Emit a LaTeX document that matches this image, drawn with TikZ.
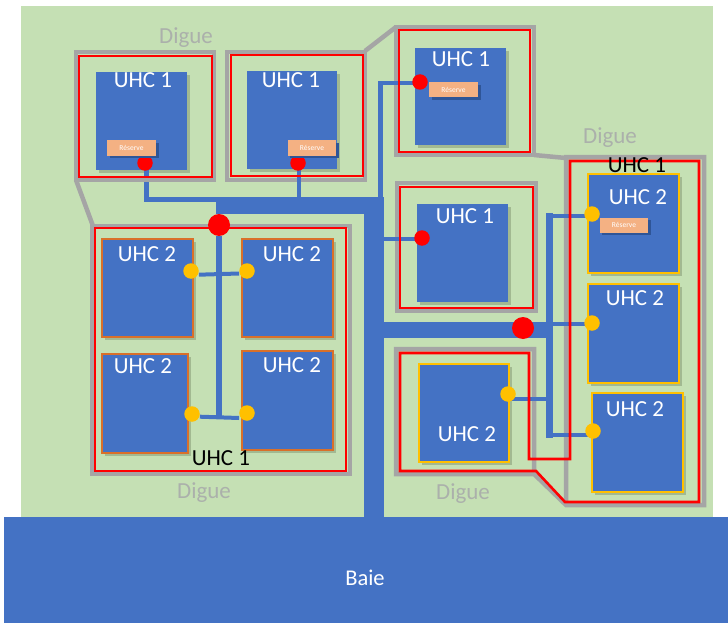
\documentclass[tikz,border=0pt]{standalone}
\usepackage{fontspec}
\usetikzlibrary{backgrounds}
\setmainfont{Carlito}
\definecolor{land}{HTML}{C5E0B4}
\definecolor{eau}{HTML}{4472C4}
\definecolor{digue}{HTML}{A5A5A5}
\definecolor{digtxt}{HTML}{ABB0AB}
\definecolor{ored}{HTML}{FF0000}
\definecolor{gold}{HTML}{FFC000}
\definecolor{orng}{HTML}{D9702A}
\definecolor{resv}{HTML}{F4B183}
\definecolor{resd}{HTML}{2F5597}
\definecolor{shad}{HTML}{6E7F5E}
\tikzset{
  dike/.style={draw=digue,line width=4.5pt,line join=miter},
  uhcrim/.style={draw=ored,line width=2.6pt,line join=miter},
  chan/.style={draw=eau,line width=4.5pt},
  big/.style={fill=eau,draw=none},
  parcel/.style={fill=eau,draw=none},
  parcelo/.style={parcel,draw=orng,line width=1.6pt},
  parcelg/.style={parcel,draw=gold,line width=2.2pt},
  sh/.style={fill=shad,opacity=.4,draw=none},
  rdot/.style={circle,fill=ored,draw=none,inner sep=0pt,minimum size=15.5pt},
  rbig/.style={circle,fill=ored,draw=none,inner sep=0pt,minimum size=22pt},
  gdot/.style={circle,fill=gold,draw=none,inner sep=0pt,minimum size=15.5pt},
  lab/.style={text=white,font=\fontsize{23}{24}\selectfont,inner sep=0pt},
  blk/.style={text=black,font=\fontsize{23}{24}\selectfont,inner sep=0pt},
  dig/.style={text=digtxt,font=\fontsize{23}{24}\selectfont,inner sep=0pt},
  resbox/.style={fill=resv,draw=none,text=white,font=\fontsize{7.5}{8}\selectfont,inner sep=0pt,minimum width=48.5pt,minimum height=15pt},
}
\newcommand{\parc}[5]{% style, x0,y0,x1,y1
  \fill[sh] (#2+3,#3+3) rectangle (#4+3,#5+3);
  \path[#1] (#2,#3) rectangle (#4,#5);
}
\newcommand{\resv}[3]{% name, cx, cy
  \fill[resd] (#2-22,#3-5) rectangle (#2+27,#3+10);
  \node[resbox] (#1) at (#2,#3) {Réserve};
}
\begin{document}
\begin{tikzpicture}[x=1pt,y=-1pt]
\useasboundingbox (0,0) rectangle (728,623);
% junction dots
\node[rdot] (r1) at (145,163) {};
\node[rdot] (r2) at (298,163) {};
\node[rdot] (r3) at (420,82) {};
\node[rdot] (r4) at (422,238) {};
\node[rbig] (b1) at (219,225) {};
\node[rbig] (b2) at (523,328) {};
\node[gdot] (g1) at (592,214) {};
\node[gdot] (g2) at (592,323) {};
\node[gdot] (g3) at (593,431) {};
\node[gdot] (g4) at (508,394) {};
\node[gdot] (g5) at (191,271) {};
\node[gdot] (g6) at (247,271) {};
\node[gdot] (g7) at (192,414) {};
\node[gdot] (g8) at (247,413) {};
\coordinate (ja) at (146.5,199.5);
\coordinate (jb) at (218,199.5);
\coordinate (jc) at (299,199);
\coordinate (je) at (380.5,200);
\coordinate (jf) at (380,239);
\coordinate (jh) at (219,417);
\coordinate (ji) at (549.5,216);
\coordinate (jj) at (549.5,324);
\coordinate (jk) at (549.5,398.5);
\coordinate (jl) at (549.5,435);
\begin{pgfonlayer}{background}
\fill[white] (0,0) rectangle (728,623);
\fill[land] (21,6) rectangle (713,517);
% dikes
\draw[dike] (76,180) -- (76,52) -- (214,52) -- (214,180) -- cycle;
\draw[dike] (227,180) -- (227,52) -- (365,52) -- (365,180) -- cycle;
\draw[dike] (365,51) -- (396,27);
\draw[dike] (396,155) -- (396,27) -- (534,27) -- (534,155) -- cycle;
\draw[dike] (534,155) -- (566,158);
\draw[dike] (566,505) -- (566,157) -- (704,157) -- (704,505) -- (566,505) -- (534,474) -- (396,474) -- (396,349) -- (534,349) -- (534,474);
\draw[dike] (397,311) -- (397,183) -- (536,183) -- (536,311) -- cycle;
\draw[dike] (92,474) -- (92,226) -- (350,226) -- (350,474) -- cycle;
\draw[dike] (76,180) -- (93,226);
% main channels
\path[big] (364,197) rectangle (384,517);
\path[big] (216,197) rectangle (384,214);
\path[big] (384,322) rectangle (546,338);
% Baie
\fill[eau] (4,517) rectangle (728,623);
% parcels
\parc{parcel}{96}{72}{187}{170}
\parc{parcel}{247}{71}{337}{169}
\parc{parcel}{415}{48}{506}{145}
\parc{parcel}{417}{204}{508}{302}
\parc{parcelg}{588}{174}{679}{273}
\parc{parcelg}{588}{284}{679}{383}
\parc{parcelg}{592}{393}{683}{492}
\parc{parcelg}{419}{364}{509}{462}
\parc{parcelo}{102}{239}{193}{337}
\parc{parcelo}{242}{239}{333}{337}
\parc{parcelo}{102}{354}{188}{453}
\parc{parcelo}{242}{351}{333}{450}
% secondary channels
\draw[chan,line join=miter] ([xshift=1.5pt]r1.center) -- (ja) -- (jb);
\draw[chan] ([xshift=1pt]r2.center) -- (jc);
\draw[chan,line join=miter] ([yshift=-1pt]r3.center) -| (je);
\draw[chan] ([yshift=-1pt]r4.center) -- (jf);
\draw[chan,line width=6pt] (b1) -- (jh);
\draw[chan,line width=4pt] ([yshift=-3.7pt]g5.east) -- ([yshift=-2.5pt]g6.west);
\draw[chan,line width=4pt] ([yshift=-2.7pt]g7.east) -- ([yshift=-5pt]g8.west);
\draw[chan,line width=6.5pt,line cap=rect] (ji) -- (jl);
\draw[chan,line width=4pt] ([yshift=-2pt]g1.center) -- (ji);
\draw[chan,line width=4pt] ([yshift=-1pt]g2.center) -- (jj);
\draw[chan,line width=4pt] ([yshift=-4.5pt]g4.center) -- (jk);
\draw[chan,line width=4pt] ([yshift=-4pt]g3.center) -- (jl);
\fill[digue] (143,177) rectangle (151,182);
% red outlines
\draw[uhcrim] (79,56) rectangle (212,177);
\draw[uhcrim] (231,55) rectangle (363,176);
\draw[uhcrim] (399,30) rectangle (530,152);
\draw[uhcrim] (400,187) rectangle (533,308);
\draw[uhcrim] (95,228) rectangle (346,471);
\draw[uhcrim] (570,161) -- (699,161) -- (699,502) -- (565,502) -- (536,471) -- (400,471) -- (400,353) -- (529,353) -- (529,459) -- (570,459) -- cycle;
\end{pgfonlayer}
% reserve
\resv{res1}{131.5}{148}
\resv{res2}{312}{148}
\resv{res3}{453.5}{90}
\resv{res4}{624}{225}
% labels
\node[text=white,font=\fontsize{22.5}{24}\selectfont,inner sep=0pt] (baie) at (365,578) {Baie};
\node[lab] (t1) at (143,80) {UHC 1};
\node[lab] (t2) at (291,80) {UHC 1};
\node[lab] (t3) at (461,59) {UHC 1};
\node[lab] (t4) at (465,216) {UHC 1};
\node[lab] (t5) at (638,197) {UHC 2};
\node[lab] (t6) at (635,298) {UHC 2};
\node[lab] (t7) at (635,409) {UHC 2};
\node[lab] (t8) at (467,434) {UHC 2};
\node[lab] (t9) at (147,254) {UHC 2};
\node[lab] (t10) at (292,254) {UHC 2};
\node[lab] (t11) at (143,366) {UHC 2};
\node[lab] (t12) at (292,365) {UHC 2};
\node[blk] (k1) at (637,165) {UHC 1};
\node[blk] (k2) at (221,458) {UHC 1};
\node[dig] (d1) at (186,38) {Digue};
\node[dig] (d2) at (610,138) {Digue};
\node[dig] (d3) at (204,493) {Digue};
\node[dig] (d4) at (463,494) {Digue};
\end{tikzpicture}
\end{document}
